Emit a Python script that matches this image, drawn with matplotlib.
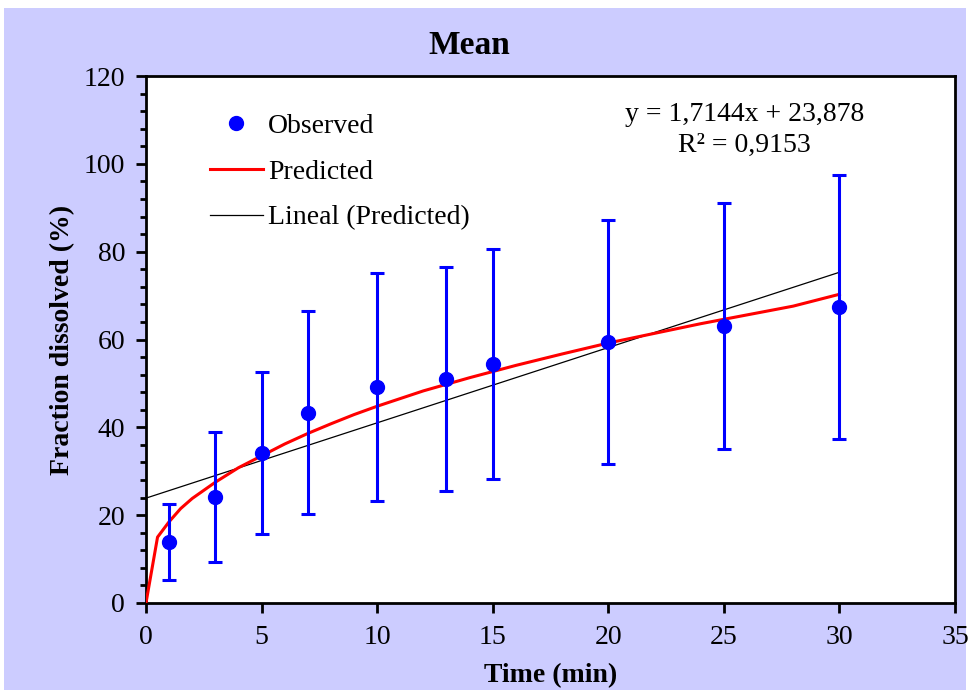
import matplotlib.pyplot as plt
from matplotlib.patches import Rectangle
from matplotlib.lines import Line2D
from matplotlib.ticker import MultipleLocator

# observed data (mean +/- sd)
time_obs = [1, 3, 5, 7, 10, 13, 15, 20, 25, 30]
frac_obs = [13.9, 24.1, 34.2, 43.3, 49.2, 51.0, 54.4, 59.5, 63.1, 67.4]
frac_sd = [8.7, 14.8, 18.5, 23.1, 25.9, 25.5, 26.1, 27.8, 28.1, 30.0]

# predicted curve
time_pred = [0, 0.5, 1, 1.5, 2, 3, 4, 5, 6, 7, 8, 9, 10, 12, 14, 16, 18, 20, 22, 24, 26, 28, 30]
frac_pred = [0, 15.0, 18.5, 21.5, 23.8, 27.5, 30.8, 33.5, 36.2, 38.6, 40.8, 42.9, 44.8,
             48.3, 51.3, 54.1, 56.7, 59.2, 61.4, 63.6, 65.6, 67.6, 70.3]

# linear trendline of predicted
slope = 1.7144
intercept = 23.878
trend_x = [0, 30]

plt.rcParams['font.family'] = ['Liberation Serif', 'DejaVu Serif']

fig = plt.figure(figsize=(9.7, 6.95), dpi=100, facecolor='white')
fig.patches.append(Rectangle((4/970, 5/695), 962/970, 682/695, transform=fig.transFigure,
                             facecolor='#CCCCFF', edgecolor='none', zorder=-5))
ax = fig.add_axes([0.1505, 0.1324, 0.834, 0.7582])
ax.set_facecolor('white')

ax.plot(time_pred, frac_pred, color='red', lw=2.2, zorder=3)
ax.plot(trend_x, [slope * x + intercept for x in trend_x], color='black', lw=0.9, zorder=2)
ax.errorbar(time_obs, frac_obs, yerr=frac_sd, fmt='o', color='#0000FF', ms=10,
            elinewidth=2.2, capsize=5, capthick=2.2, zorder=4)

ax.set_xlim(0, 35)
ax.set_ylim(0, 120)
ax.xaxis.set_major_locator(MultipleLocator(5))
ax.yaxis.set_major_locator(MultipleLocator(20))
ax.yaxis.set_minor_locator(MultipleLocator(4))
ax.tick_params(axis='both', which='major', direction='out', length=7, width=2, labelsize=20)
ax.tick_params(axis='x', which='major', pad=8.5)
ax.tick_params(axis='y', which='major', pad=8)
ax.tick_params(axis='y', which='minor', direction='out', length=4, width=2)
for s in ax.spines.values():
    s.set_linewidth(2)

fig.text(469/970, 1 - 45/695, 'Mean', fontsize=24, fontweight='bold', ha='center', va='center')
ax.set_xlabel('Time (min)', fontsize=20, fontweight='bold', labelpad=10)
ax.set_ylabel('Fraction dissolved (%)', fontsize=20, fontweight='bold', labelpad=6)

handles = [Line2D([], [], ls='none', marker='o', color='#0000FF', ms=10),
           Line2D([], [], color='red', lw=2.2),
           Line2D([], [], color='black', lw=0.9)]
labels = ['Observed', 'Predicted', 'Lineal (Predicted)']
ax.legend(handles, labels, loc='upper left', bbox_to_anchor=(0.079, 0.929),
          borderaxespad=0, borderpad=0, frameon=False, fontsize=20,
          labelspacing=0.73, handlelength=1.9, handletextpad=0.2)

ax.text(25.9, 114, 'y = 1,7144x + 23,878\nR² = 0,9153', ha='center', va='top',
        fontsize=20, linespacing=1.3)

fig.savefig('out.png', dpi=100, facecolor='white')
